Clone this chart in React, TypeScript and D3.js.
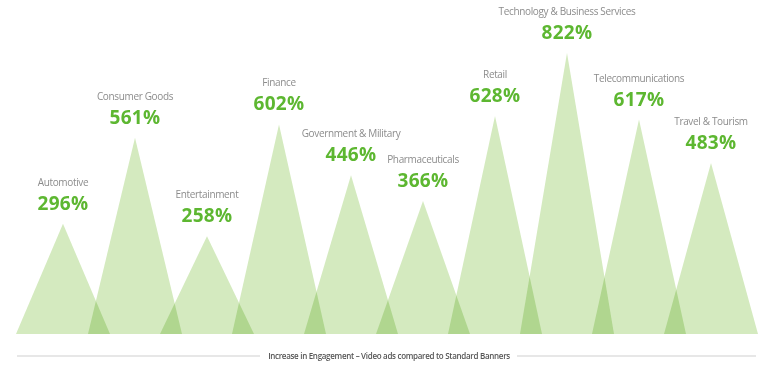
import React from "react";
import * as d3 from "d3";

const categories = [
  "Automotive",
  "Consumer Goods",
  "Entertainment",
  "Finance",
  "Government & Military",
  "Pharmaceuticals",
  "Retail",
  "Technology & Business Services",
  "Telecommunications",
  "Travel & Tourism",
];
const values = [296, 561, 258, 602, 446, 366, 628, 822, 617, 483];
const caption = "Increase in Engagement \u2013 Video ads compared to Standard Banners";

const W = 770;
const H = 367;
const BASE = 334;
const HALF = 47;

export default function App() {
  const x = d3.scalePoint<string>().domain(categories).range([63, 711]);
  const y = d3.scaleLinear().domain([0, 822]).range([BASE - 14, 53]);
  const line = d3.line<[number, number]>();

  return (
    <svg
      width={W}
      height={H}
      style={{ position: "absolute", left: 0, top: 0, background: "#fff" }}
    >
      <g style={{ isolation: "isolate" }}>
        {categories.map((c, i) => {
          const cx = x(c)!;
          const py = y(values[i]);
          const d = line([
            [cx - HALF, BASE],
            [cx, py],
            [cx + HALF, BASE],
          ])! + "Z";
          return (
            <path
              key={c}
              d={d}
              fill="#d4eabf"
              style={{ mixBlendMode: "multiply" }}
            />
          );
        })}
      </g>
      {categories.map((c, i) => {
        const cx = x(c)!;
        const py = y(values[i]);
        return (
          <g key={c + "-lbl"}>
            <text
              x={cx}
              y={py - 38}
              textAnchor="middle"
              fontFamily="'Open Sans', sans-serif"
              fontSize={10}
              letterSpacing={-0.35}
              fill="#8c8c8c"
            >
              {c}
            </text>
            <text
              x={cx}
              y={py - 14}
              textAnchor="middle"
              fontFamily="'Open Sans', sans-serif"
              fontWeight={700}
              fontSize={19}
              letterSpacing={0.3}
              fill="#5db731"
            >
              {values[i] + "%"}
            </text>
          </g>
        );
      })}
      <line x1={17} x2={260} y1={356} y2={356} stroke="#cfcfcf" strokeWidth={1} />
      <line x1={517} x2={756} y1={356} y2={356} stroke="#cfcfcf" strokeWidth={1} />
      <text
        x={389}
        y={359}
        textAnchor="middle"
        fontFamily="'Open Sans', sans-serif"
        fontWeight={600}
        fontSize={8}
        letterSpacing={-0.3}
        fill="#555"
      >
        {caption}
      </text>
    </svg>
  );
}
